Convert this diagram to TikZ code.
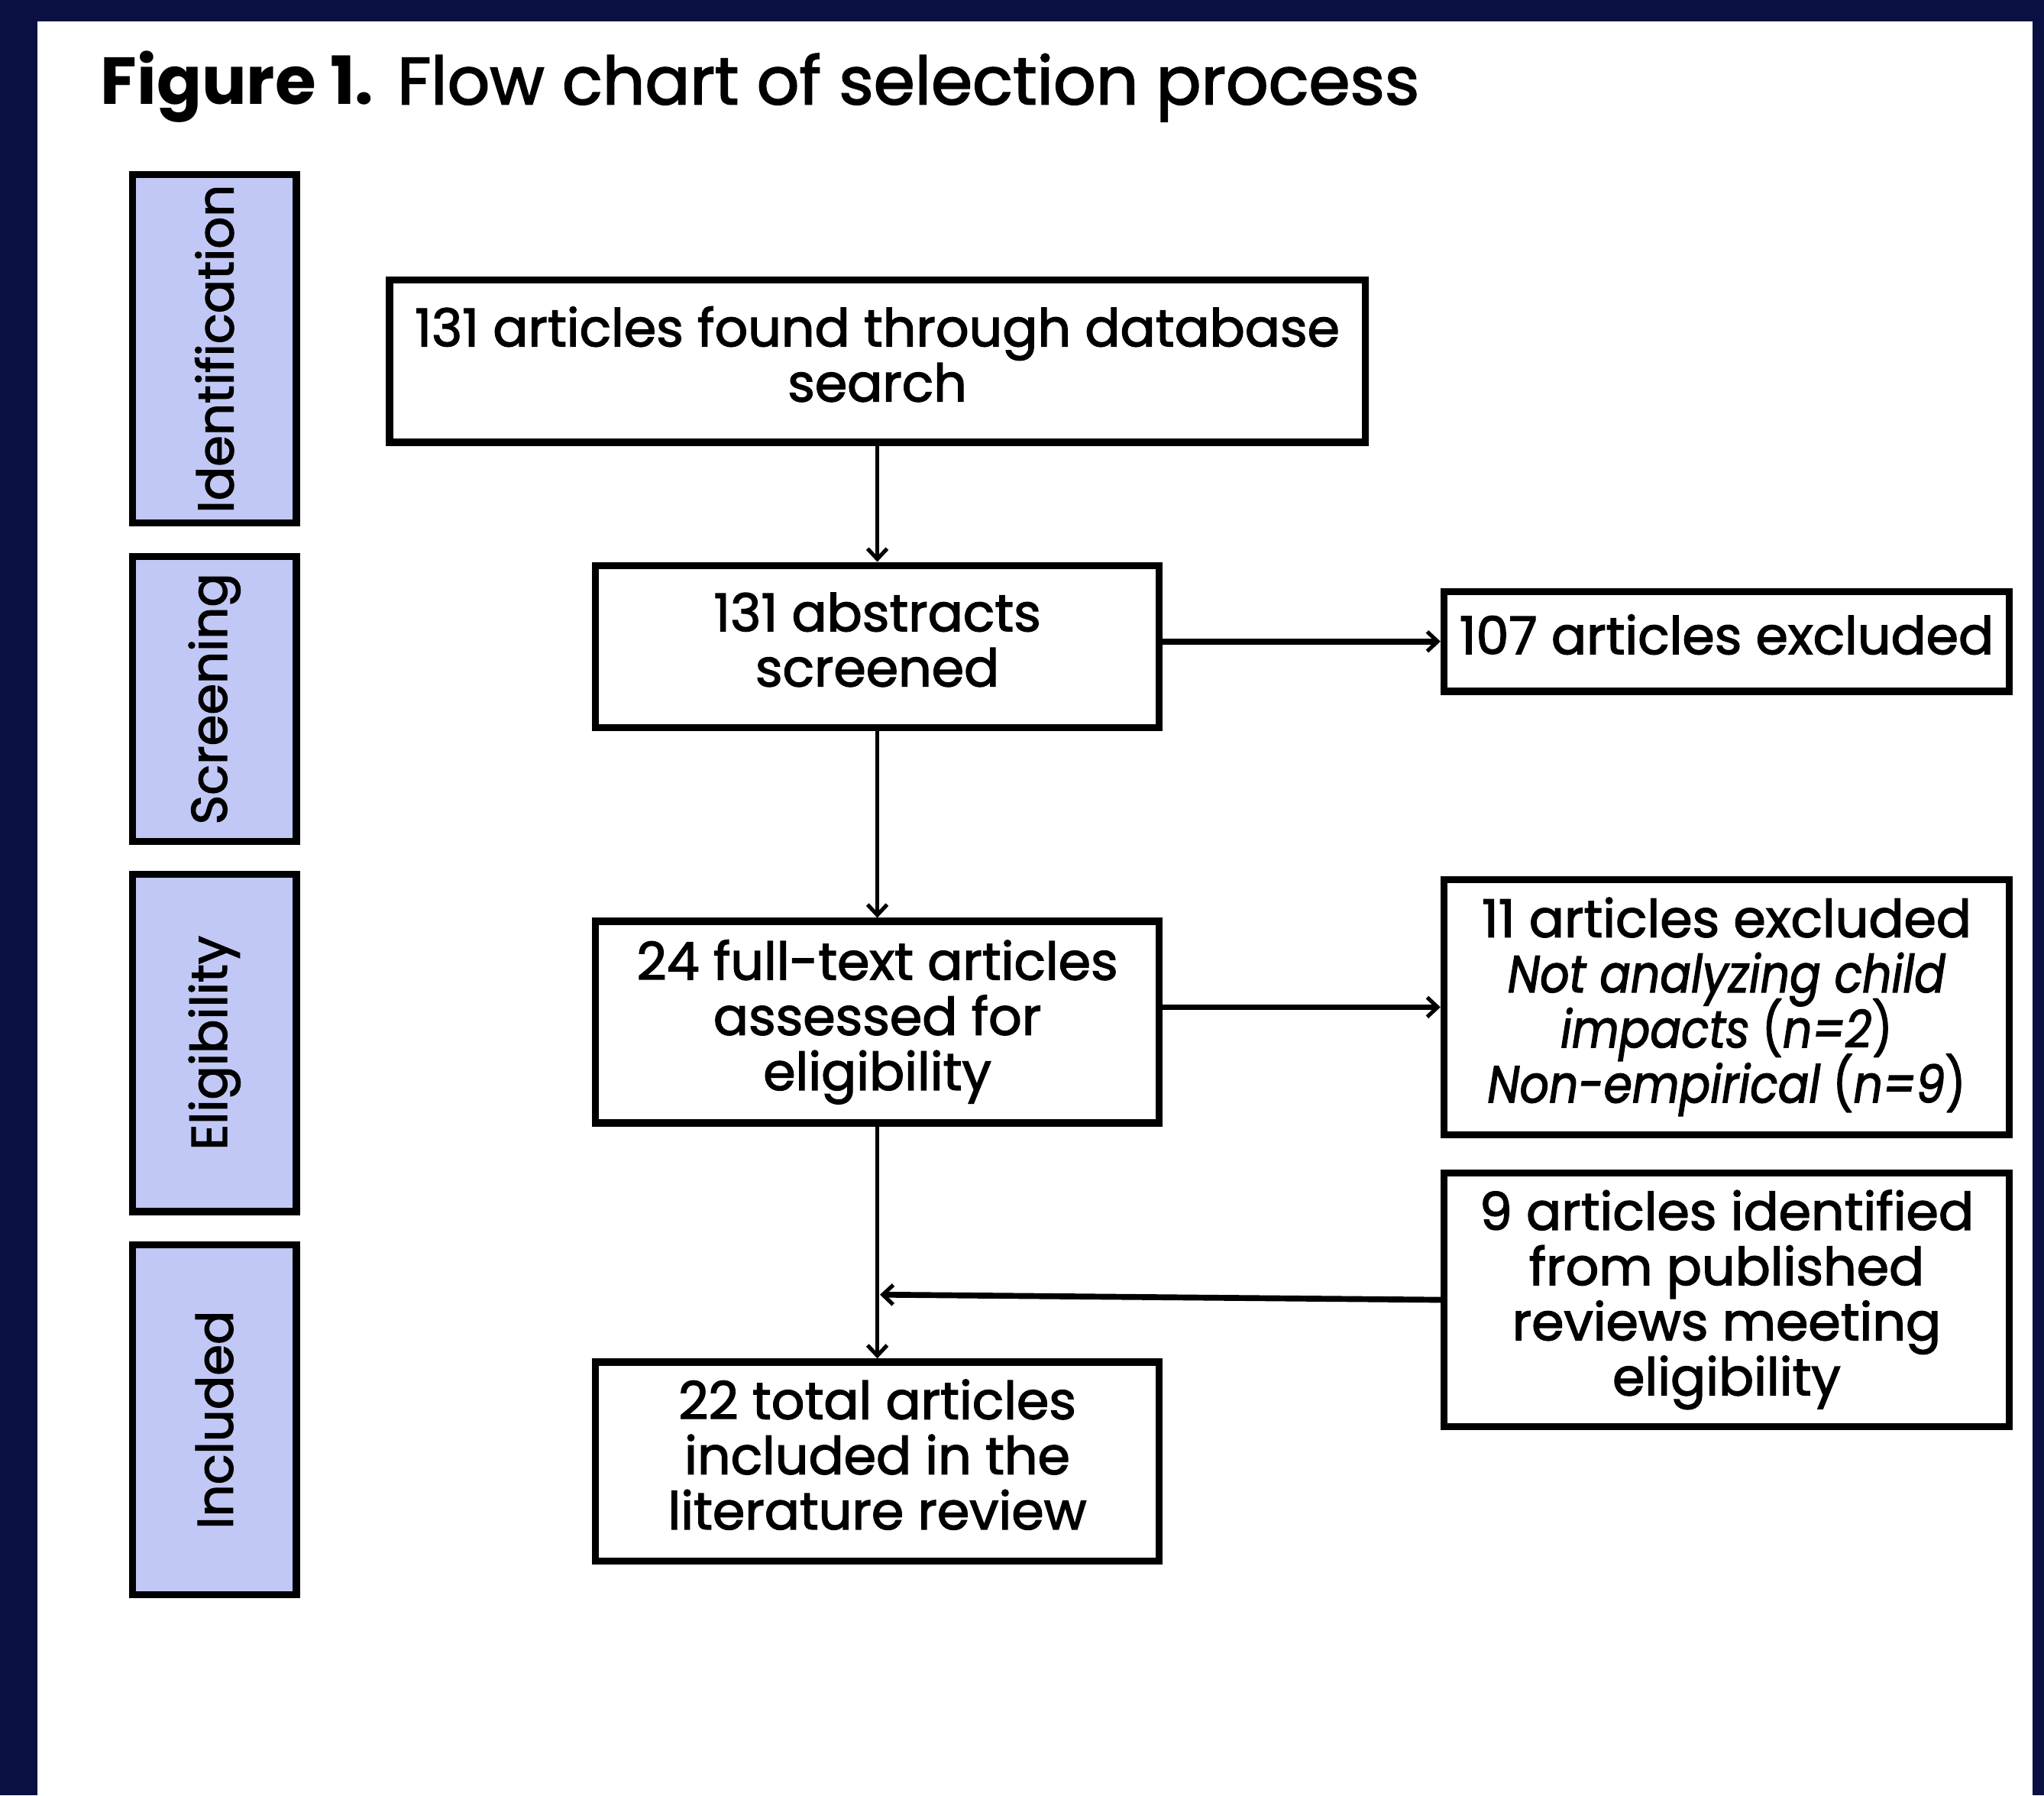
\documentclass[tikz,border=0pt]{standalone}
\usepackage{fontspec}
\setmainfont{Poppins}[UprightFeatures={FakeBold=2},ItalicFeatures={FakeBold=2}]
\usetikzlibrary{arrows.meta}
\definecolor{navy}{HTML}{0A1142}
\definecolor{lav}{HTML}{C1C8F5}
\newcommand{\bodyfont}{\fontsize{40}{42.3}\selectfont\lineskiplimit=-100pt\relax}
\newcommand{\phasefont}{\fontsize{38.5}{42}\selectfont}
\newcommand{\itline}[1]{\scalebox{0.88}[1]{#1}}
\tikzset{
  box/.style={draw=black, line width=5.5pt, fill=white, inner sep=0pt, align=center, font=\bodyfont, text depth=11pt},
  phase/.style={draw=black, line width=5.5pt, fill=lav, inner sep=0pt, minimum width=125.5pt, font=\phasefont},
  arr/.style={line width=3pt, -{Straight Barb[length=8pt,width=15pt,line width=3pt]}},
  harr/.style={arr, line width=4.5pt},
}
\begin{document}
\begin{tikzpicture}[x=1pt,y=-1pt]
\useasboundingbox (0,0) rectangle (1568,1377);
\fill[navy] (0,0) rectangle (1568,1377);
\fill[white] (28.7,16.4) rectangle (1559.2,1380);
\node[anchor=base west, inner sep=0pt, font=\fontsize{51}{60}\selectfont] (title) at (77,80) {\textbf{Figure 1.} Flow chart of selection process};
% phase labels
\node[phase, minimum height=267.5pt] (pI) at (164.5,267.5) {\rotatebox{90}{Identification}};
\node[phase, minimum height=218.5pt] (pS) at (164.5,536) {\rotatebox{90}{Screening}};
\node[phase, minimum height=258.5pt] (pE) at (164.5,800) {\rotatebox{90}{Eligibility}};
\node[phase, minimum height=268.5pt] (pC) at (164.5,1089) {\rotatebox{90}{Included}};
% boxes
\node[box, minimum width=748.5pt, minimum height=124.5pt] (b1) at (673,277) {131 articles found through database\\search};
\node[box, minimum width=432.5pt, minimum height=124.5pt] (b2) at (673,496) {131 abstracts\\screened};
\node[box, minimum width=433.5pt, minimum height=76.5pt] (b3) at (1324.5,492) {107 articles excluded};
\node[box, minimum width=432.5pt, minimum height=154.5pt] (b4) at (673,784) {24 full-text articles\\assessed for\\eligibility};
\node[box, minimum width=433.5pt, minimum height=195.5pt] (b5) at (1324.5,772.5) {11 articles excluded\\\itline{\textit{Not analyzing child}}\\\itline{\textit{impacts} (\textit{n=2})}\\\itline{\textit{Non-empirical} (\textit{n=9})}};
\node[box, minimum width=433.5pt, minimum height=194.5pt] (b6) at (1324.5,997) {9 articles identified\\from published\\reviews meeting\\eligibility};
\node[box, minimum width=432.5pt, minimum height=152.5pt] (b7) at (673,1121) {22 total articles\\included in the\\literature review};
\coordinate (m) at (675,993);
% connectors
\draw[arr] (b1.south) -- (b2.north);
\draw[harr] (b2.east |- b3.west) -- (b3.west);
\draw[arr] (b2.south) -- (b4.north);
\draw[harr] (b4.east |- b5.west) -- (b5.west);
\draw[arr] (b4.south) -- (b7.north);
\draw[harr] (b6.west) -- (m);
\end{tikzpicture}
\end{document}
